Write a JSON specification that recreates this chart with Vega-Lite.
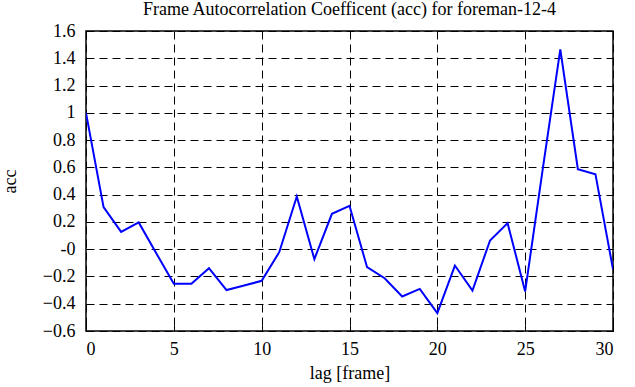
{
  "$schema": "https://vega.github.io/schema/vega-lite/v6.json",
  "autosize": {"type": "none"},
  "padding": {"left": 86, "top": 31, "right": 22, "bottom": 56},
  "width": 527,
  "height": 300,
  "background": "white",
  "title": {"text": "Frame Autocorrelation Coefficent (acc) for foreman-12-4", "font": "Liberation Serif", "fontSize": 18, "fontWeight": "normal", "color": "black", "offset": 3},
  "config": {
    "font": "Liberation Serif",
    "view": {"stroke": "black", "strokeWidth": 1.5},
    "axis": {"labelFont": "Liberation Serif", "titleFont": "Liberation Serif", "labelFontSize": 18, "titleFontSize": 18, "titleFontWeight": "normal", "labelColor": "black", "titleColor": "black", "domain": false, "tickColor": "black", "gridColor": "black", "gridDash": [8, 5], "gridOpacity": 1, "gridWidth": 1}
  },
  "data": {"values": [
    {"lag": 0, "acc": 1.0}, {"lag": 1, "acc": 0.308}, {"lag": 2, "acc": 0.127}, {"lag": 3, "acc": 0.196},
    {"lag": 4, "acc": -0.03}, {"lag": 5, "acc": -0.254}, {"lag": 6, "acc": -0.254}, {"lag": 7, "acc": -0.139},
    {"lag": 8, "acc": -0.3}, {"lag": 9, "acc": -0.267}, {"lag": 10, "acc": -0.232}, {"lag": 11, "acc": -0.022},
    {"lag": 12, "acc": 0.386}, {"lag": 13, "acc": -0.073}, {"lag": 14, "acc": 0.259}, {"lag": 15, "acc": 0.318},
    {"lag": 16, "acc": -0.132}, {"lag": 17, "acc": -0.213}, {"lag": 18, "acc": -0.347}, {"lag": 19, "acc": -0.291},
    {"lag": 20, "acc": -0.469}, {"lag": 21, "acc": -0.12}, {"lag": 22, "acc": -0.303}, {"lag": 23, "acc": 0.064},
    {"lag": 24, "acc": 0.191}, {"lag": 25, "acc": -0.31}, {"lag": 26, "acc": 0.587}, {"lag": 27, "acc": 1.465},
    {"lag": 28, "acc": 0.587}, {"lag": 29, "acc": 0.55}, {"lag": 30, "acc": -0.147}
  ]},
  "layer": [
    {
      "mark": {"type": "line", "color": "#0000ff", "strokeWidth": 2, "clip": true},
      "encoding": {
        "x": {"field": "lag", "type": "quantitative", "scale": {"domain": [0, 30], "nice": false},
              "axis": {"title": "lag [frame]", "labelFont": "Liberation Serif", "labelFontSize": 18, "values": [0, 5, 10, 15, 20, 25, 30], "tickSize": -6, "labelPadding": 15, "titlePadding": 6, "orient": "bottom"}},
        "y": {"field": "acc", "type": "quantitative", "scale": {"domain": [-0.6, 1.6], "nice": false, "zero": false},
              "axis": {"title": "acc", "labelFont": "Liberation Serif", "labelFontSize": 18, "values": [-0.6, -0.4, -0.2, 0, 0.2, 0.4, 0.6, 0.8, 1, 1.2, 1.4, 1.6], "labelExpr": "datum.value == 0 ? '-0' : format(datum.value, '.1~f')", "tickSize": -6, "labelPadding": 17, "titlePadding": 23, "orient": "left"}}
      }
    },
    {
      "mark": {"type": "line", "opacity": 0, "clip": true},
      "encoding": {
        "x": {"field": "lag", "type": "quantitative", "axis": {"orient": "top", "title": null, "labels": false, "grid": false, "values": [0, 5, 10, 15, 20, 25, 30], "tickSize": -6}},
        "y": {"field": "acc", "type": "quantitative", "axis": {"orient": "right", "title": null, "labels": false, "grid": false, "values": [-0.6, -0.4, -0.2, 0, 0.2, 0.4, 0.6, 0.8, 1, 1.2, 1.4, 1.6], "tickSize": -6}}
      }
    }
  ],
  "resolve": {"axis": {"x": "independent", "y": "independent"}}
}
